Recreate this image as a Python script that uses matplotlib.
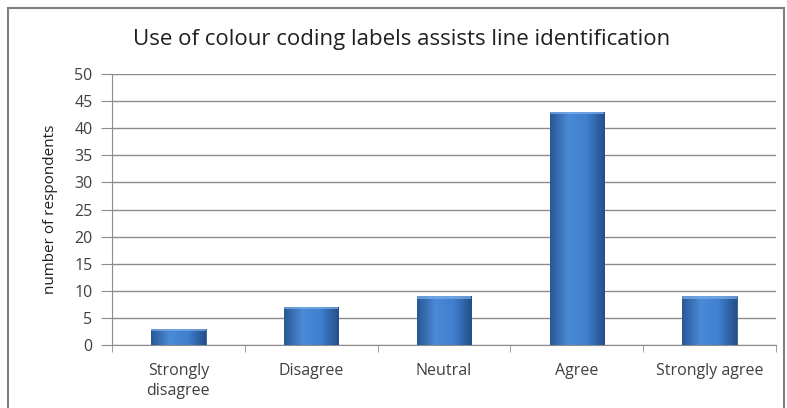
import numpy as np
import matplotlib
matplotlib.use("Agg")
import matplotlib.pyplot as plt
from matplotlib.patches import Rectangle
from matplotlib.colors import LinearSegmentedColormap

# data
categories = ["Strongly\ndisagree", "Disagree", "Neutral", "Agree", "Strongly agree"]
respondents = [3, 7, 9, 43, 9]
y_ticks = list(range(0, 51, 5))

plt.rcParams['font.family'] = ['Open Sans', 'DejaVu Sans']

fig = plt.figure(figsize=(7.87, 4.08), dpi=100)
fig.patch.set_facecolor('white')

# outer chart border (bottom runs off the picture)
fig.patches.append(Rectangle((8 / 787, -0.05), 776 / 787, 1 - 8 / 408 + 0.05,
                             transform=fig.transFigure, fill=False,
                             edgecolor='#7f7f7f', linewidth=1.5))

ax = fig.add_axes([112 / 787, 1 - 345 / 408, 664 / 787, 271 / 408])

x = np.arange(len(categories))
bars = ax.bar(x, respondents, width=0.41, color='#3a78c8', edgecolor='#2c5a96',
              linewidth=0.6, zorder=3)

# horizontal shading inside each bar, dark at the sides
cmap = LinearSegmentedColormap.from_list('barshade', ['#2a5896', '#4a8ad6', '#3f80d0', '#24508a'])
shade = np.linspace(0, 1, 64).reshape(1, -1)
for b in bars:
    x0, w, h = b.get_x(), b.get_width(), b.get_height()
    im = ax.imshow(shade, cmap=cmap, extent=(x0, x0 + w, 0, h), aspect='auto', zorder=3.5)
    im.set_clip_path(b)
    # light bevel along the top edge
    ax.add_patch(Rectangle((x0, h - 0.45), w, 0.45, facecolor='#7fb0ea', edgecolor='none',
                           alpha=0.7, zorder=4))

ax.set_xlim(-0.5, len(categories) - 0.5)
ax.set_ylim(0, 50)
ax.set_yticks(y_ticks)
ax.set_yticklabels([str(v) for v in y_ticks], fontsize=11.5, color='#404040')
ax.yaxis.grid(True, color='#8c8c8c', linewidth=1.0, zorder=0)
ax.set_axisbelow(True)
ax.tick_params(axis='y', length=8, color='#8c8c8c', pad=6)

ax.set_xticks(x)
ax.set_xticklabels(categories, fontsize=11.5, color='#404040', linespacing=1.3)
ax.set_xticks(np.arange(len(categories) + 1) - 0.5, minor=True)
ax.tick_params(axis='x', which='major', length=0, pad=13)
ax.tick_params(axis='x', which='minor', length=5, color='#8c8c8c')

for side in ['top', 'right']:
    ax.spines[side].set_visible(False)
ax.spines['left'].set_color('#8c8c8c')
ax.spines['bottom'].set_color('#8c8c8c')

ax.set_ylabel('number of respondents', fontsize=11, color='#202020', labelpad=12)
fig.text(0.51, 1 - 40 / 408, 'Use of colour coding labels assists line identification',
         ha='center', va='center', fontsize=16, color='#202020')

fig.savefig('out.png', dpi=100)
